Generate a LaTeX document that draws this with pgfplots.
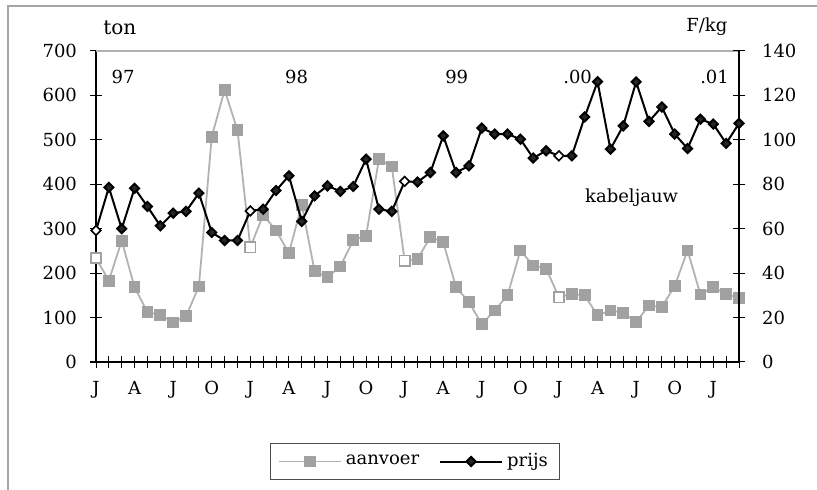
\documentclass[border=0pt]{standalone}
\usepackage{fontspec}
\setmainfont{DejaVu Serif}
\usepackage{pgfplots}
\usepackage{pgfplotstable}
\pgfplotsset{compat=1.18}

% monthly data, Jan 97 .. Mar 01
\pgfplotstableread{
idx aanvoer prijs
0  234 59.2
1  183 78.6
2  273 60.0
3  168 78.2
4  112 70.0
5  106 61.3
6   89 67.0
7  103 67.8
8  170 76.0
9  507 58.3
10 612 54.7
11 522 54.7
12 258 68.0
13 331 68.8
14 296 77.2
15 245 83.8
16 354 63.3
17 204 74.8
18 191 79.3
19 215 76.8
20 274 79.0
21 284 91.3
22 456 68.8
23 440 67.8
24 228 81.3
25 232 81.0
26 281 85.3
27 270 101.8
28 168 85.3
29 135 88.3
30  85 105.3
31 116 102.6
32 150 102.6
33 251 100.3
34 217 91.8
35 210 95.1
36 146 92.8
37 153 92.8
38 150 110.3
39 105 126.2
40 116 95.8
41 111 106.3
42  90 126.1
43 127 108.3
44 124 114.8
45 171 102.6
46 251 96.1
47 152 109.3
48 168 107.1
49 153 98.4
50 144 107.4
}\kabeljauw

\definecolor{linegray}{gray}{0.70}
\definecolor{markgray}{gray}{0.63}

\pgfplotsset{
  common/.style={
    scale only axis, width=321.5pt, height=155.5pt,
    at={(48pt,64pt)}, anchor=south west,
    xmin=0, xmax=50,
    /pgf/number format/assume math mode=true,
    tick align=center, major tick length=6pt,
    tick style={black, line width=0.5pt},
    every outer x axis line/.append style={-},
    every outer y axis line/.append style={-},
    axis line style={black, line width=0.6pt},
  },
  aanvoerstyle/.style={linegray, line width=0.9pt, mark=square*, mark size=2.5pt,
    mark options={fill=markgray, draw=markgray}},
  prijsstyle/.style={black, line width=1pt, mark=square*, mark size=1.6pt,
    mark options={rotate=45, fill=black!85}},
}

\begin{document}
\begin{tikzpicture}[font=\fontsize{9}{11}\selectfont]
\path[use as bounding box] (0,0) rectangle (408.5pt,245pt);
\draw[gray!70, line width=0.6pt] (4pt,0) -- (4pt,242pt) -- (408.5pt,242pt);

\begin{axis}[common,
  axis x line*=bottom, axis y line*=left,
  x axis line style={shorten <=-3pt},
  ymin=0, ymax=700, ytick={0,100,...,700},
  xtick={0,1,...,50},
  xticklabels={J,,,A,,,J,,,O,,,J,,,A,,,J,,,O,,,J,,,A,,,J,,,O,,,J,,,A,,,J,,,O,,,J,,},
  xticklabel style={yshift=-3pt},
  yticklabel style={xshift=-3pt},
  clip=false,
]
\draw[gray!60, line width=0.6pt] (rel axis cs:0,1) -- (rel axis cs:1,1);
\addplot[aanvoerstyle] table[x=idx, y=aanvoer] {\kabeljauw};
\addplot[only marks, mark=square*, mark size=2.5pt,
  mark options={fill=white, draw=markgray, line width=0.6pt},
  x filter/.expression={(mod(x,12)==0 && x<40) ? x : nan}]
  table[x=idx, y=aanvoer] {\kabeljauw};
\node at (axis cs:2.1,641) {97};
\node at (axis cs:15.6,641) {98};
\node at (axis cs:28.05,641) {99};
\node at (axis cs:37.45,641) {.00};
\node at (axis cs:48.1,641) {.01};
\node at (axis cs:41.65,371) {kabeljauw};
\node[font=\fontsize{10}{12}\selectfont] at (rel axis cs:0.037,1.074) {ton};
\node at (rel axis cs:0.95,1.077) {F/kg};
\end{axis}

\begin{axis}[common,
  axis x line=none, axis y line*=right,
  ymin=0, ymax=140, ytick={0,20,...,140},
  yticklabel style={xshift=5pt},
  legend columns=2,
  legend style={at={(0.496,-0.32)}, anchor=center, draw=black!70,
    line width=0.5pt, inner xsep=4pt, inner ysep=3pt,
    /tikz/every even column/.append style={column sep=8pt}},
  legend image code/.code={\draw[mark repeat=2, mark phase=2]
    plot coordinates {(0pt,0pt) (15.5pt,0pt) (31pt,0pt)};},
]
\addlegendimage{aanvoerstyle}
\addlegendentry{aanvoer}
\addplot[prijsstyle] table[x=idx, y=prijs] {\kabeljauw};
\addlegendentry{prijs}
\addplot[forget plot, only marks, mark=square*, mark size=1.6pt,
  mark options={rotate=45, fill=white, draw=black, line width=0.6pt},
  x filter/.expression={(mod(x,12)==0 && x<40) ? x : nan}]
  table[x=idx, y=prijs] {\kabeljauw};
\end{axis}
\end{tikzpicture}
\end{document}
